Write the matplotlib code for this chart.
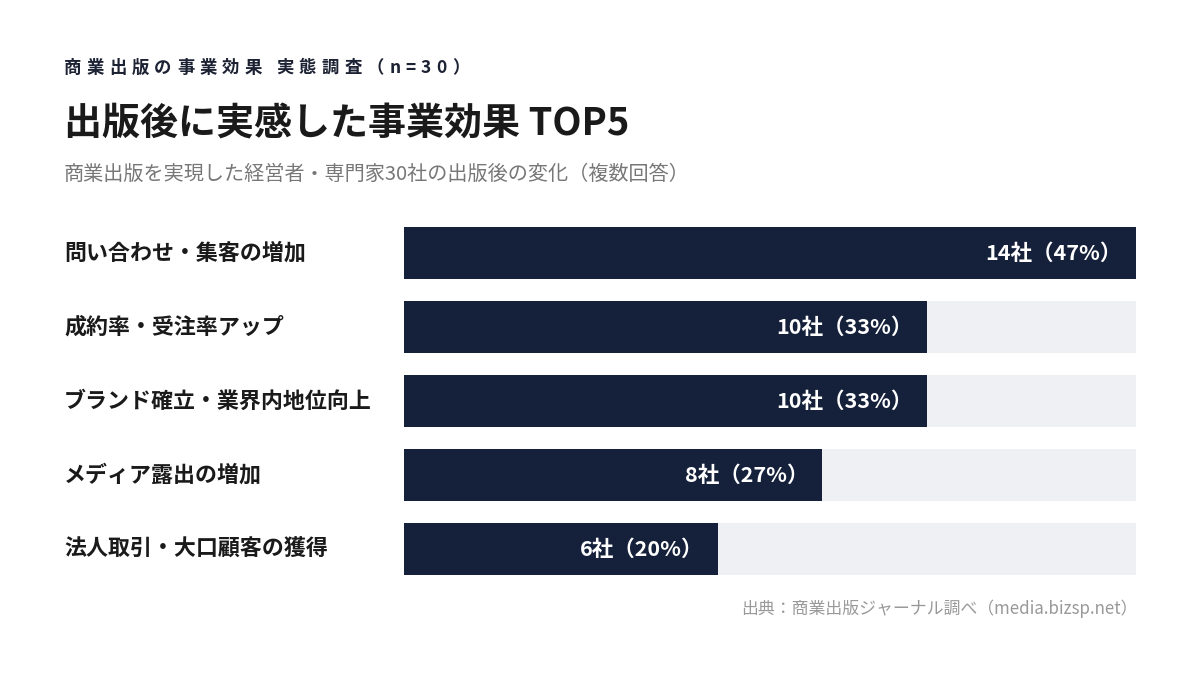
import numpy as np
import matplotlib
matplotlib.use("Agg")
import matplotlib.pyplot as plt
import matplotlib.transforms as mtransforms

plt.rcParams['font.family'] = ['Noto Sans CJK JP', 'DejaVu Sans']

# data
categories = ["問い合わせ・集客の増加", "成約率・受注率アップ", "ブランド確立・業界内地位向上",
              "メディア露出の増加", "法人取引・大口顧客の獲得"]
companies = [14, 10, 10, 8, 6]
percents = [47, 33, 33, 27, 20]
max_val = 14

navy = "#15213b"
track = "#eef0f3"

fig = plt.figure(figsize=(12, 6.75), dpi=100)
fig.patch.set_facecolor("white")
renderer = fig.canvas.get_renderer()


def spaced_text(x_px, y_px, s, spacing_px, **kw):
    # draw text char by char with extra letter spacing
    x = x_px
    for ch in s:
        t = fig.text(x/1200, 1 - y_px/675, ch, va="center", ha="left", **kw)
        w = t.get_window_extent(renderer).width
        x += w + spacing_px


# header texts
spaced_text(64, 68, "商業出版の事業効果 実態調査（n=30）", 5.2, fontsize=12.5,
            fontweight="bold", color="#1c2233")
fig.text(64/1200, 1 - 124/675, "出版後に実感した事業効果 TOP5", fontsize=27.4,
         fontweight="bold", color="#1a1a1a", va="center", ha="left")
fig.text(64/1200, 1 - 174/675, "商業出版を実現した経営者・専門家30社の出版後の変化（複数回答）",
         fontsize=14.5, color="#777777", va="center", ha="left")

ax = fig.add_axes([404/1200, 1 - 586/675, 732/1200, 370/675])
y = np.arange(len(categories))
bh = 52/74
ax.barh(y, [max_val]*len(y), height=bh, color=track, zorder=1)
ax.barh(y, companies, height=bh, color=navy, zorder=2)
ax.set_xlim(0, max_val)
ax.set_ylim(len(y) - 0.5, -0.5)
ax.axis("off")

# category labels at fixed figure x
blend = mtransforms.blended_transform_factory(fig.transFigure, ax.transData)
for yi, name in zip(y, categories):
    ax.text(64/1200, yi, name, transform=blend, fontsize=15.8, fontweight="bold",
            color="#1a1a1a", va="center", ha="left")

# value labels inside bars
offset = mtransforms.ScaledTranslation(-14/100, 0, fig.dpi_scale_trans)
for yi, c, p in zip(y, companies, percents):
    ax.text(c, yi, f"{c}社（{p}%）", transform=ax.transData + offset, fontsize=15.5,
            fontweight="bold", color="white", va="center", ha="right", zorder=3)

fig.text(1138/1200, 1 - 609/675, "出典：商業出版ジャーナル調べ（media.bizsp.net）",
         fontsize=12.2, color="#999999", va="center", ha="right")

fig.savefig("out.png", dpi=100, facecolor="white")
